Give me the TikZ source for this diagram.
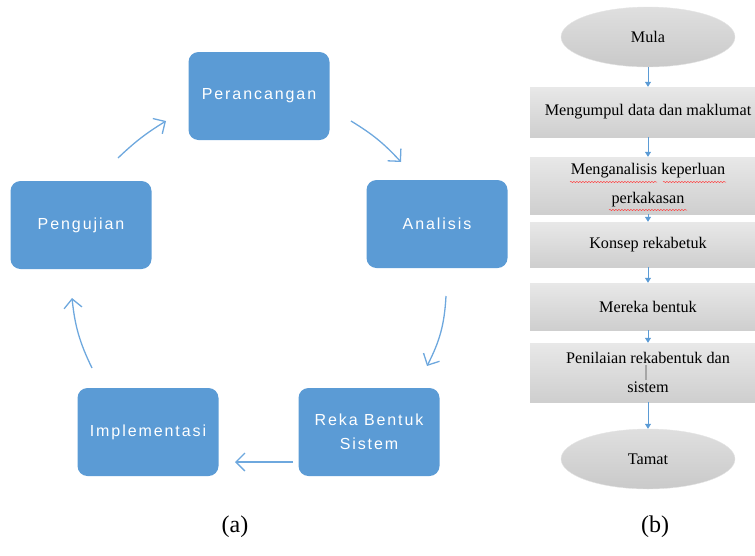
\documentclass[tikz,border=0pt]{standalone}
\usepackage{fontspec}
\setmainfont{Liberation Serif}
\newfontfamily\boxfont[LetterSpace=12]{Liberation Sans}
\usetikzlibrary{arrows.meta,shapes.geometric,decorations.pathmorphing}
\definecolor{bblue}{RGB}{91,155,213}
\definecolor{cblue}{RGB}{110,168,222}
\begin{document}
\begin{tikzpicture}[x=1pt,y=-1pt,
 bluebox/.style={draw=none, fill=bblue, rounded corners=10pt, minimum width=141pt, minimum height=88pt, text=white, font=\boxfont\fontsize{16}{24}\selectfont, align=center, inner sep=0pt},
 cyc/.style={draw=cblue, line width=1.3pt, -{Straight Barb[length=9pt,width=18pt,line width=1.3pt]}},
 graybox/.style={rectangle, top color=gray!18, bottom color=gray!38, draw=none, minimum width=236pt, inner sep=0pt, font=\fontsize{16.2}{29}\selectfont, align=center},
 oval/.style={ellipse, top color=gray!25, bottom color=gray!42, draw=gray!20, minimum width=174pt, minimum height=60pt, inner sep=0pt, font=\fontsize{16.2}{19}\selectfont},
 flow/.style={draw=bblue, line width=0.8pt, -{Triangle[length=5pt,width=6pt]}},
 squig/.style={draw=red!75, line width=0.5pt, decorate, decoration={snake, amplitude=0.6pt, segment length=3pt}},
 lbl/.style={font=\fontsize{24}{28}\selectfont, inner sep=0pt}
]
\useasboundingbox (0,0) rectangle (755,555);
\clip (0,0) rectangle (755,555);

% (a) cycle
\node[bluebox] (per) at (259,96) {Perancangan};
\node[bluebox] (ana) at (437,224) {Analisis};
\node[bluebox] (reka) at (369,432) {Reka Bentuk\\Sistem};
\node[bluebox] (imp) at (148,432) {Implementasi};
\node[bluebox] (uji) at (81,225) {Pengujian};

\coordinate (a1s) at (351,121); \coordinate (a1e) at (401,162);
\coordinate (a2s) at (446,296); \coordinate (a2e) at (427,366);
\coordinate (a3s) at (293,462); \coordinate (a3e) at (235,462);
\coordinate (a4s) at (92,368);  \coordinate (a4e) at (72,298);
\coordinate (a5s) at (118,158); \coordinate (a5e) at (166,121);
\draw[cyc] (a1s) to[bend left=8] (a1e);
\draw[cyc] (a2s) to[bend left=12] (a2e);
\draw[cyc] (a3s) -- (a3e);
\draw[cyc] (a4s) to[bend left=10] (a4e);
\draw[cyc] (a5s) to[bend left=6] (a5e);

% (b) flowchart
\node[oval] (mula) at (648,37) {Mula};
\node[graybox, minimum height=50pt] (b1) at (648,112) {Mengumpul data dan maklumat};
\node[graybox, minimum height=57pt] (b2) at (648,185.5) {Menganalisis keperluan\\perkakasan};
\node[graybox, minimum height=45pt] (b3) at (648,244.5) {Konsep rekabetuk};
\node[graybox, minimum height=47pt] (b4) at (648,306.5) {Mereka bentuk};
\node[graybox, minimum height=59pt] (b5) at (648,372.5) {Penilaian rekabentuk dan\\sistem};
\node[oval] (tamat) at (648,459) {Tamat};

\draw[flow] (mula) -- (b1);
\draw[flow] (b1) -- (b2);
\draw[flow] (b2) -- (b3);
\draw[flow] (b3) -- (b4);
\draw[flow] (b4) -- (b5);
\draw[flow] (b5) -- (tamat);

% spell-check underlines and cursor mark
\draw[squig] (570,182) -- (657,182);
\draw[squig] (663,182) -- (726,182);
\draw[squig] (609,210) -- (687,210);
\draw[gray!70, line width=1.2pt] (646,365) -- (646,380);

\node[lbl] (la) at (235,527) {(a)};
\node[lbl] (lb) at (655,527) {(b)};
\end{tikzpicture}
\end{document}
